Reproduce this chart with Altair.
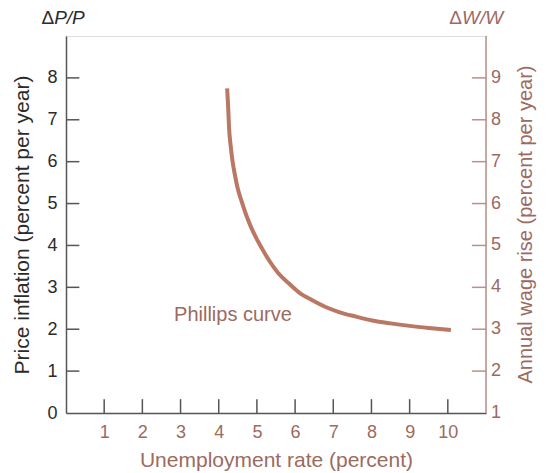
import altair as alt
import pandas as pd

# Phillips curve (unemployment %, price inflation %)
curve_x = [4.22, 4.25, 4.27, 4.31, 4.36, 4.42, 4.49, 4.60, 4.71, 4.84, 4.97, 5.15, 5.32, 5.55, 5.84, 6.10, 6.45, 6.80, 7.15, 7.60, 8.02, 8.50, 9.00, 9.50, 10.08]
curve_y = [7.75, 7.25, 6.82, 6.40, 6.02, 5.70, 5.39, 5.05, 4.75, 4.45, 4.20, 3.90, 3.64, 3.35, 3.09, 2.88, 2.69, 2.53, 2.41, 2.30, 2.21, 2.14, 2.08, 2.03, 1.98]

x_ticks = [1, 2, 3, 4, 5, 6, 7, 8, 9, 10]
left_ticks = [1, 2, 3, 4, 5, 6, 7, 8]
left_labels = [0, 1, 2, 3, 4, 5, 6, 7, 8]
right_ticks = [2, 3, 4, 5, 6, 7, 8, 9]       # wage-rise scale = inflation + 1
right_labels = [1, 2, 3, 4, 5, 6, 7, 8, 9]

FONT = "Liberation Sans"
DARK = "#2b2b2b"
AXIS_DARK = "#555555"
BROWN = "#9c6a5f"
CURVE = "#b97764"
RIGHT_AXIS = "#b9918a"

xs = alt.Scale(domain=[0, 11], nice=False, zero=False)
ys = alt.Scale(domain=[0, 9], nice=False, zero=False)

x_axis = alt.Axis(
    values=x_ticks, ticks=False, grid=False, domainColor=AXIS_DARK, domainWidth=1.5,
    labelColor=BROWN, labelFont=FONT, labelFontSize=18, labelPadding=10,
    title="Unemployment rate (percent)", titleColor=BROWN, titleFont=FONT,
    titleFontSize=21, titleFontWeight="normal", titlePadding=8)

y_axis = alt.Axis(
    values=left_labels, ticks=False, grid=False, domainColor=AXIS_DARK, domainWidth=1.5,
    labelColor=DARK, labelFont=FONT, labelFontSize=18, labelPadding=9,
    title="Price inflation (percent per year)", titleColor=DARK, titleFont=FONT,
    titleFontSize=21, titleFontWeight="normal", titlePadding=14)


def X(field):
    return alt.X(field, scale=xs, axis=x_axis)


def Y(field):
    return alt.Y(field, scale=ys, axis=y_axis)


curve_df = pd.DataFrame({"u": curve_x, "p": curve_y})
curve = alt.Chart(curve_df).mark_line(
    color=CURVE, strokeWidth=4, strokeCap="butt", interpolate="monotone"
).encode(x=X("u:Q"), y=Y("p:Q"))

lt_df = pd.DataFrame({"y": left_ticks, "x0": [0] * len(left_ticks), "x1": [0.35] * len(left_ticks)})
left_tick_layer = alt.Chart(lt_df).mark_rule(color=AXIS_DARK, strokeWidth=1.5).encode(
    x=X("x0:Q"), x2="x1:Q", y=Y("y:Q"))

bt_df = pd.DataFrame({"x": x_ticks, "y0": [0] * len(x_ticks), "y1": [0.33] * len(x_ticks)})
bottom_tick_layer = alt.Chart(bt_df).mark_rule(color=AXIS_DARK, strokeWidth=1.5).encode(
    x=X("x:Q"), y=Y("y0:Q"), y2="y1:Q")

# right-hand wage axis (drawn by hand on the same scale, offset by 1)
rd_df = pd.DataFrame({"x": [11], "y0": [0], "y1": [9]})
right_domain = alt.Chart(rd_df).mark_rule(color=RIGHT_AXIS, strokeWidth=1.5).encode(
    x=X("x:Q"), y=Y("y0:Q"), y2="y1:Q")

rt_df = pd.DataFrame({"w": right_ticks, "x0": [10.63] * len(right_ticks), "x1": [11] * len(right_ticks)})
right_tick_layer = alt.Chart(rt_df).transform_calculate(p="datum.w - 1").mark_rule(
    color=RIGHT_AXIS, strokeWidth=1.5).encode(x=X("x0:Q"), x2="x1:Q", y=Y("p:Q"))

rl_df = pd.DataFrame({"w": right_labels, "x": [11] * len(right_labels)})
right_label_layer = alt.Chart(rl_df).transform_calculate(p="datum.w - 1").mark_text(
    align="left", baseline="middle", dx=5, font=FONT, fontSize=18, color=BROWN
).encode(x=X("x:Q"), y=Y("p:Q"), text="w:N")

rtitle_df = pd.DataFrame({"x": [12.05], "y": [4.5], "t": ["Annual wage rise (percent per year)"]})
right_title = alt.Chart(rtitle_df).mark_text(
    align="center", baseline="middle", angle=270, font=FONT, fontSize=20, color=BROWN
).encode(x=X("x:Q"), y=Y("y:Q"), text="t:N")

label_df = pd.DataFrame({"x": [2.83], "y": [2.33], "t": ["Phillips curve"]})
label_layer = alt.Chart(label_df).mark_text(
    align="left", baseline="middle", font=FONT, fontSize=20, color=BROWN
).encode(x=X("x:Q"), y=Y("y:Q"), text="t:N")

# axis headings: Δ upright, variables italic
head_x = [-0.31, 10.37]
head_y = [9.43, 9.43]
delta_df = pd.DataFrame({"x": head_x, "y": head_y, "t": ["Δ", "Δ"], "c": ["l", "r"]})
var_df = pd.DataFrame({"x": head_x, "y": head_y, "t": ["P/P", "W/W"], "c": ["l", "r"]})
col_scale = alt.Scale(domain=["l", "r"], range=[DARK, BROWN])

delta_layer = alt.Chart(delta_df).mark_text(
    align="right", baseline="middle", font=FONT, fontSize=19
).encode(x=X("x:Q"), y=Y("y:Q"), text="t:N",
         color=alt.Color("c:N", scale=col_scale, legend=None))

var_layer = alt.Chart(var_df).mark_text(
    align="left", baseline="middle", font=FONT, fontSize=19, fontStyle="italic"
).encode(x=X("x:Q"), y=Y("y:Q"), text="t:N",
         color=alt.Color("c:N", scale=col_scale, legend=None))

chart = alt.layer(
    curve, left_tick_layer, bottom_tick_layer, right_domain, right_tick_layer,
    right_label_layer, right_title, label_layer, delta_layer, var_layer
).properties(
    width=420, height=377,
    autosize=alt.AutoSizeParams(type="none"),
    padding={"left": 58, "top": 28, "right": 53, "bottom": 58},
).configure_view(stroke=None).configure(background="white")

chart.save("out.html", embed_options={"renderer": "svg", "actions": False})
